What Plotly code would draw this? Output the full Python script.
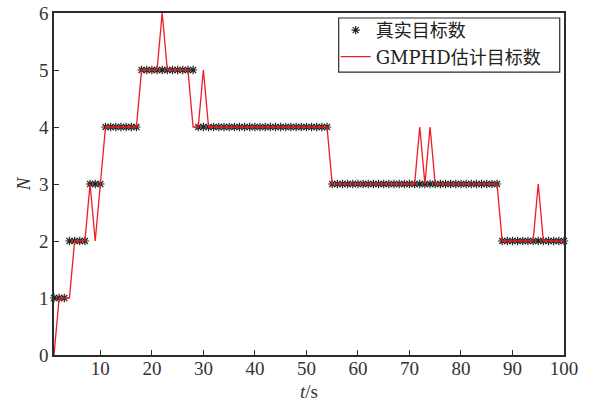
import plotly.graph_objects as go

# time steps
t = list(range(1, 101))

# true target number per time step
true_n = ([1] * 3 + [2] * 4 + [3] * 3 + [4] * 7 + [5] * 11 +
          [4] * 26 + [3] * 33 + [2] * 13)

# GMPHD estimated target number per time step
est_n = ([0] + [1] * 3 + [2] * 3 + [3, 2, 3] + [4] * 7 +
         [5] * 4 + [6] + [5] * 5 + [4, 4, 5] + [4] * 24 +
         [3] * 17 + [4, 3, 4] + [3] * 13 +
         [2] * 7 + [3] + [2] * 5)

x_ticks = [10, 20, 30, 40, 50, 60, 70, 80, 90, 100]
y_ticks = [0, 1, 2, 3, 4, 5, 6]

FONT = "Liberation Serif, Times New Roman, Noto Sans CJK SC, serif"
LFONT = "DejaVu Serif, Noto Sans CJK SC, serif"
AX = "#2b2b2b"

fig = go.Figure()
fig.add_trace(go.Scatter(
    x=t, y=true_n, mode="markers", name="真实目标数",
    marker=dict(symbol="asterisk-open", size=7, color="#222222",
                line=dict(width=1.2, color="#222222")),
    cliponaxis=False,
))
fig.add_trace(go.Scatter(
    x=t, y=est_n, mode="lines", name="GMPHD估计目标数",
    line=dict(color="#ee1c25", width=1.3),
    cliponaxis=False,
))

# legend frame
fig.add_shape(type="rect", xref="paper", yref="paper",
              x0=0.5582, x1=0.9916, y0=0.8273, y1=0.9854,
              line=dict(color=AX, width=1.2), fillcolor="white",
              layer="below")

fig.update_layout(
    width=596, height=402,
    margin=dict(l=54.4, r=31.7, t=13, b=47.3, autoexpand=False),
    paper_bgcolor="white", plot_bgcolor="white",
    font=dict(family=FONT, size=19, color="#333333"),
    showlegend=True,
    legend=dict(
        x=0.5523, y=1.003, xanchor="left", yanchor="top",
        bgcolor="rgba(0,0,0,0)", borderwidth=0,
        font=dict(family=LFONT, size=18, color="#222222"),
        tracegroupgap=0,
    ),
)
fig.update_xaxes(
    range=[1, 100], tickvals=x_ticks, ticktext=[str(v) for v in x_ticks],
    ticks="inside", ticklen=5, tickcolor=AX, tickwidth=1.2,
    showline=True, linecolor=AX, linewidth=1.5, mirror=True,
    showgrid=False, zeroline=False, automargin=False,
    ticklabelstandoff=-5, ticklabeloverflow="allow",
    title=dict(text="<i>t</i>/s", standoff=8, font=dict(size=19)),
    tickfont=dict(size=19),
)
fig.update_yaxes(
    range=[0, 6], tickvals=y_ticks, ticktext=[str(v) for v in y_ticks],
    ticks="inside", ticklen=5, tickcolor=AX, tickwidth=1.2,
    showline=True, linecolor=AX, linewidth=1.5, mirror=True,
    showgrid=False, zeroline=False, automargin=False,
    ticklabeloverflow="allow",
    title=dict(text="<i>N</i>", standoff=3, font=dict(size=19)),
    tickfont=dict(size=19),
)

fig.write_html("out.html",
               config={"displayModeBar": False},
               post_script="document.body.style.margin='0';")
